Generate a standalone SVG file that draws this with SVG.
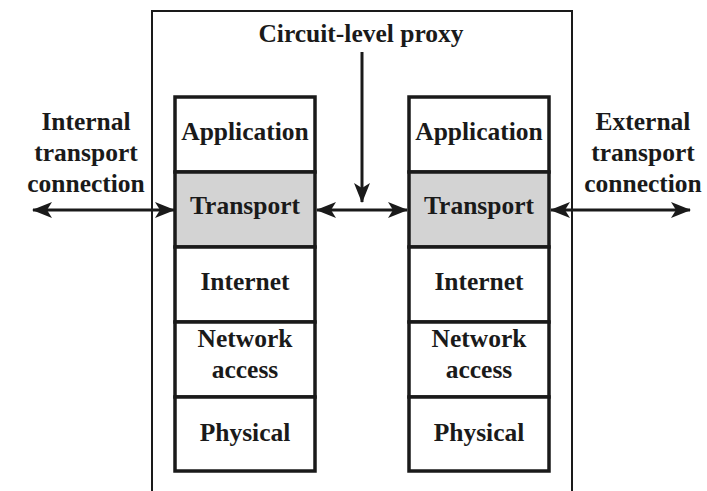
<svg xmlns="http://www.w3.org/2000/svg" width="707" height="491" viewBox="0 0 707 491">
<defs>
<marker id="ah" viewBox="0 0 20 16" refX="19" refY="8" markerWidth="20" markerHeight="16" markerUnits="userSpaceOnUse" orient="auto-start-reverse">
<path d="M0,0 L20,8 L0,16 L5,8 Z" fill="#1a1a1a"/>
</marker>
<style>
text{font-family:"Liberation Serif","Times New Roman",serif;font-weight:bold;fill:#1a1a1a;text-anchor:middle}
.lbl{font-size:25.5px}
.layer{fill:#fff;stroke:#1a1a1a;stroke-width:3.5}
.gray{fill:#d3d3d3}
.conn{stroke:#1a1a1a;stroke-width:3;fill:none}
</style>
</defs>
<rect width="707" height="491" fill="#fff"/>
<g id="proxy-box">
<path d="M152,500 L152,11 L572,11 L572,500" fill="none" stroke="#1a1a1a" stroke-width="2"/>
<text class="lbl" x="361" y="42">Circuit-level proxy</text>
</g>
<g id="left-stack">
<rect class="layer" x="175" y="97" width="140" height="75"/>
<rect class="layer gray" x="175" y="172" width="140" height="75"/>
<rect class="layer" x="175" y="247" width="140" height="75"/>
<rect class="layer" x="175" y="322" width="140" height="75"/>
<rect class="layer" x="175" y="397" width="140" height="74"/>
<text class="lbl" x="245" y="140">Application</text>
<text class="lbl" x="245" y="214">Transport</text>
<text class="lbl" x="245" y="290">Internet</text>
<text class="lbl" x="245" y="347">Network</text>
<text class="lbl" x="245" y="378">access</text>
<text class="lbl" x="245" y="441">Physical</text>
</g>
<g id="right-stack">
<rect class="layer" x="409" y="97" width="140" height="75"/>
<rect class="layer gray" x="409" y="172" width="140" height="75"/>
<rect class="layer" x="409" y="247" width="140" height="75"/>
<rect class="layer" x="409" y="322" width="140" height="75"/>
<rect class="layer" x="409" y="397" width="140" height="74"/>
<text class="lbl" x="479" y="140">Application</text>
<text class="lbl" x="479" y="214">Transport</text>
<text class="lbl" x="479" y="290">Internet</text>
<text class="lbl" x="479" y="347">Network</text>
<text class="lbl" x="479" y="378">access</text>
<text class="lbl" x="479" y="441">Physical</text>
</g>
<g id="internal-label">
<text class="lbl" x="86" y="130">Internal</text>
<text class="lbl" x="86" y="161">transport</text>
<text class="lbl" x="86" y="192">connection</text>
</g>
<g id="external-label">
<text class="lbl" x="643" y="130">External</text>
<text class="lbl" x="643" y="161">transport</text>
<text class="lbl" x="643" y="192">connection</text>
</g>
<g id="connectors">
<line class="conn" x1="33" y1="210" x2="174" y2="210" marker-start="url(#ah)" marker-end="url(#ah)"/>
<line class="conn" x1="317" y1="210" x2="407" y2="210" marker-start="url(#ah)" marker-end="url(#ah)"/>
<line class="conn" x1="551" y1="210" x2="690" y2="210" marker-start="url(#ah)" marker-end="url(#ah)"/>
<line class="conn" x1="362" y1="52" x2="362" y2="202" marker-end="url(#ah)"/>
</g>
</svg>
